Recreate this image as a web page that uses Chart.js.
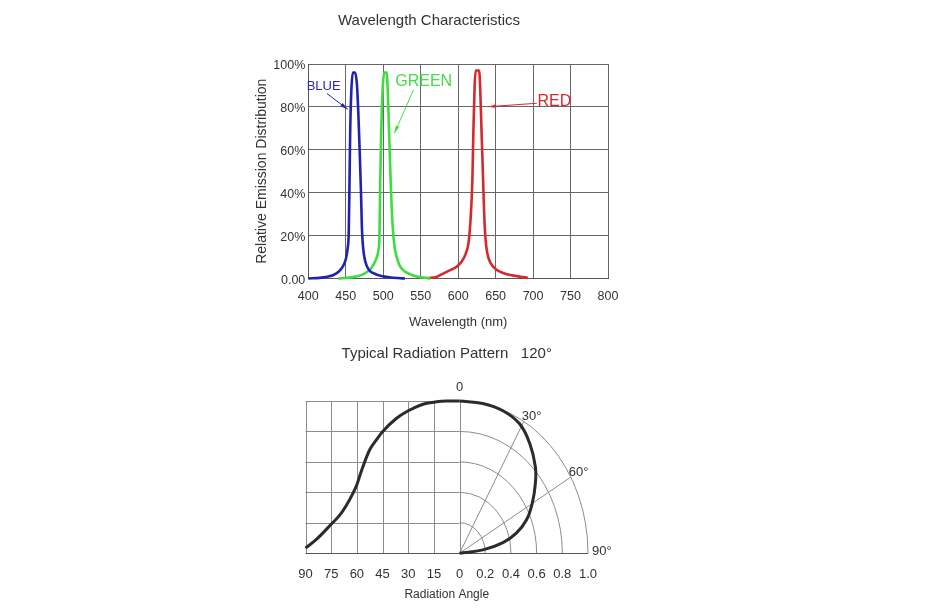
<!DOCTYPE html>
<html>
<head>
<meta charset="utf-8">
<script src="https://cdn.jsdelivr.net/npm/chart.js@4.4.1/dist/chart.umd.min.js"></script>
<style>
  html, body { margin: 0; padding: 0; background: #fff; }
  body { width: 929px; height: 609px; position: relative; overflow: hidden; }
  #specBox { position: absolute; left: 250px; top: 0; width: 400px; height: 340px; }
  #radBox { position: absolute; left: 286px; top: 330px; width: 360px; height: 279px; }
</style>
</head>
<body>
<div id="specBox"><canvas id="specChart"></canvas></div>
<div id="radBox"><canvas id="radChart"></canvas></div>
<script>
// ==== Données : spectre (nm, % relatif)
const emissionTicks = ["0.00", "20%", "40%", "60%", "80%", "100%"];

const blueNm  = [400, 415, 425, 433, 440, 446, 450, 452.5, 454, 455, 456, 457.5, 459.5, 462.5, 465, 467, 469, 470.5, 471.5, 473, 476, 481, 490, 500, 510, 520, 529];
const blueVal = [0, 0.3, 0.8, 1.5, 3, 5.5, 9, 14, 22, 45, 70, 88, 96, 96, 90, 75, 55, 38, 24, 15, 8, 4, 2, 1, 0.5, 0.2, 0];

const greenNm  = [440, 455, 465, 475, 482, 487, 490.5, 493.5, 495, 496, 497.5, 499.5, 501.5, 504.5, 506, 507.5, 509, 510.5, 512.5, 515, 518, 522, 528, 536, 546, 558, 563];
const greenVal = [0, 0.4, 1, 2.3, 4, 6.5, 9, 13, 20, 46, 71, 90, 96, 96, 88, 72, 55, 40, 25, 15, 10, 6, 3.5, 2, 0.8, 0.3, 0];

const redNm  = [561, 570, 580, 590, 598, 605, 610, 614, 617, 619, 620.5, 622, 623.5, 628, 629.5, 631, 632.5, 634, 635.5, 637.5, 641, 647, 655, 665, 680, 693];
const redVal = [0.3, 0.6, 2.3, 4, 5.5, 8, 11.5, 17, 30, 46, 71, 90, 97, 97, 88, 71, 55, 38, 24, 15, 9, 5.4, 3.3, 2, 1, 0.3];

// ==== Données : diagramme de rayonnement
const angleTicks = ["90", "75", "60", "45", "30", "15", "0"];
const intensityTicks = ["0.2", "0.4", "0.6", "0.8", "1.0"];

// moitié gauche : angle (°) / intensité relative
const flatAngle = [90, 84, 75, 70, 66, 62.3, 60, 57.5, 52.6, 48.7, 45, 37, 30, 21.4, 15, 7.8, 0];
const flatLevel = [0.033, 0.087, 0.19, 0.25, 0.317, 0.393, 0.45, 0.535, 0.678, 0.743, 0.798, 0.885, 0.936, 0.979, 0.992, 1.0, 1.0];

// moitié droite : tracé polaire (angle °, rayon)
const polarAngle  = [0, 10.4, 19.8, 28.8, 37.1, 46.1, 52.1, 59.9, 67.3, 73.4, 78.3, 83.1, 90];
const polarRadius = [1.0, 1.0, 0.995, 0.97, 0.905, 0.819, 0.748, 0.654, 0.564, 0.461, 0.345, 0.183, 0];

// ==== Helpers
const FONT = "'Liberation Sans', Arial, sans-serif";
const TXT = "#333";
Chart.defaults.font.family = FONT;
Chart.defaults.color = TXT;

function pts(xs, ys) {
  return xs.map((x, i) => ({ x: x, y: ys[i] }));
}

function arrow(ctx, x1, y1, x2, y2, color) {
  const a = Math.atan2(y2 - y1, x2 - x1);
  ctx.strokeStyle = color;
  ctx.fillStyle = color;
  ctx.lineWidth = 1;
  ctx.beginPath();
  ctx.moveTo(x1, y1);
  ctx.lineTo(x2, y2);
  ctx.stroke();
  ctx.beginPath();
  ctx.moveTo(x2, y2);
  ctx.lineTo(x2 - 8 * Math.cos(a - 0.25), y2 - 8 * Math.sin(a - 0.25));
  ctx.lineTo(x2 - 8 * Math.cos(a + 0.25), y2 - 8 * Math.sin(a + 0.25));
  ctx.closePath();
  ctx.fill();
}

// ==== Étiquettes BLUE / GREEN / RED (coordonnées nm / %)
const callouts = [
  { text: "BLUE",  color: "#2529b0", size: 13, at: [420.5, 89.5], from: [424.6, 86.3], to: [452.6, 78.9] },
  { text: "GREEN", color: "#45dc45", size: 16, at: [554, 92],     from: [540.3, 87.9], to: [514.9, 67.7] },
  { text: "RED",   color: "#d8282d", size: 16, at: [728.5, 82.5], from: [705, 81.7],   to: [640.4, 80.1] },
];

const calloutPlugin = {
  id: "callouts",
  afterDatasetsDraw(chart) {
    const { ctx, scales: { x, y } } = chart;
    ctx.save();
    callouts.forEach(c => {
      ctx.font = c.size + "px " + FONT;
      ctx.fillStyle = c.color;
      ctx.textAlign = "center";
      ctx.textBaseline = "middle";
      ctx.fillText(c.text, x.getPixelForValue(c.at[0]), y.getPixelForValue(c.at[1]));
      arrow(ctx,
        x.getPixelForValue(c.from[0]), y.getPixelForValue(c.from[1]),
        x.getPixelForValue(c.to[0]), y.getPixelForValue(c.to[1]), c.color);
    });
    ctx.restore();
  },
};

// ==== Graphique 1 : Wavelength Characteristics
function lineSet(data, color) {
  return {
    data: data,
    borderColor: color,
    borderWidth: 2.6,
    pointRadius: 0,
    showLine: true,
    cubicInterpolationMode: "monotone",
    clip: false,
  };
}

new Chart(document.getElementById("specChart"), {
  type: "scatter",
  data: {
    datasets: [
      lineSet(pts(blueNm, blueVal), "#1f24b0"),
      lineSet(pts(greenNm, greenVal), "#3edc3e"),
      lineSet(pts(redNm, redVal), "#d42a2c"),
    ],
  },
  options: {
    animation: false,
    maintainAspectRatio: false,
    layout: { padding: { left: 0, right: 42, top: 0, bottom: 6 } },
    plugins: {
      legend: { display: false },
      tooltip: { enabled: false },
      title: {
        display: true,
        text: "Wavelength Characteristics",
        color: TXT,
        font: { size: 15, weight: "normal" },
        padding: { top: 12, bottom: 34 },
      },
    },
    scales: {
      x: {
        type: "linear",
        min: 400,
        max: 800,
        ticks: { stepSize: 50, color: TXT, font: { size: 12.5 }, padding: 11, maxRotation: 0, autoSkip: false },
        grid: { color: "#666", drawTicks: false },
        border: { color: "#555" },
        title: { display: true, text: "Wavelength (nm)", color: TXT, font: { size: 13 } },
        afterFit: s => { s.height = 55.5; },
      },
      y: {
        min: 0,
        max: 100,
        ticks: { stepSize: 20, color: TXT, font: { size: 12.5 }, padding: 3, labelOffset: 2,
                 callback: (v, i) => emissionTicks[i] },
        grid: { color: "#666", drawTicks: false },
        border: { color: "#555" },
        title: { display: true, text: "Relative Emission Distribution", color: TXT, font: { size: 14 } },
        afterFit: s => { s.width = 58.3; },
      },
    },
  },
  plugins: [calloutPlugin],
});

// ==== Graphique 2 : Typical Radiation Pattern
// unités : 1 colonne = 15° à gauche, 0.2 à droite ; 1 ligne = 0.2
const radTickLabels = angleTicks.concat(intensityTicks);
const flatPts = pts(flatAngle.map(a => -a / 15), flatLevel.map(v => v * 5));
const polarPts = polarAngle.map((a, i) => {
  const t = a * Math.PI / 180;
  return { x: polarRadius[i] * Math.sin(t) * 5, y: polarRadius[i] * Math.cos(t) * 5 };
});

const polarGrid = {
  id: "polarGrid",
  beforeDatasetsDraw(chart) {
    const { ctx, scales: { x, y } } = chart;
    const cx = x.getPixelForValue(0), cy = y.getPixelForValue(0);
    const ux = x.getPixelForValue(1) - cx, uy = cy - y.getPixelForValue(1);
    ctx.save();
    ctx.strokeStyle = "#8c8c8c";
    ctx.lineWidth = 1;
    ctx.beginPath();
    for (let r = 1; r <= 5; r++) {                 // lignes horizontales (gauche)
      const py = Math.round(y.getPixelForValue(r)) + 0.5;
      ctx.moveTo(x.getPixelForValue(-6), py);
      ctx.lineTo(cx, py);
    }
    for (let c = -6; c <= 0; c++) {                // lignes verticales (gauche)
      const px = Math.round(x.getPixelForValue(c)) + 0.5;
      ctx.moveTo(px, y.getPixelForValue(0));
      ctx.lineTo(px, y.getPixelForValue(5));
    }
    ctx.stroke();
    for (let r = 1; r <= 5; r++) {                 // arcs
      ctx.beginPath();
      ctx.ellipse(cx, cy, ux * r, uy * r, 0, -Math.PI / 2, 0);
      ctx.stroke();
    }
    [30, 60].forEach(a => {                        // rayons
      const t = a * Math.PI / 180;
      ctx.beginPath();
      ctx.moveTo(cx, cy);
      ctx.lineTo(cx + ux * 5 * Math.sin(t), cy - uy * 5 * Math.cos(t));
      ctx.stroke();
    });
    ctx.strokeStyle = "#555";                      // axe bas
    ctx.beginPath();
    ctx.moveTo(x.getPixelForValue(-6), Math.round(cy) + 0.5);
    ctx.lineTo(cx + ux * 5, Math.round(cy) + 0.5);
    ctx.stroke();

    ctx.fillStyle = TXT;
    ctx.font = "13px " + FONT;
    ctx.textBaseline = "middle";
    ctx.textAlign = "center";
    ctx.fillText("0", cx, y.getPixelForValue(5) - 14);
    ctx.textAlign = "left";
    [["30°", 30], ["60°", 60], ["90°", 90]].forEach(([txt, a]) => {
      const t = a * Math.PI / 180;
      const px = cx + ux * 5 * Math.sin(t), py = cy - uy * 5 * Math.cos(t);
      if (a === 90) ctx.fillText(txt, px + 4, py - 2);
      else ctx.fillText(txt, px - 2, py - 5);
    });
    ctx.restore();
  },
};

function curveSet(data, mono) {
  return {
    data: data,
    borderColor: "#2b2b2b",
    borderWidth: 3,
    pointRadius: 0,
    showLine: true,
    tension: 0.4,
    cubicInterpolationMode: mono ? "monotone" : "default",
    clip: false,
  };
}

new Chart(document.getElementById("radChart"), {
  type: "scatter",
  data: { datasets: [curveSet(flatPts, true), curveSet(polarPts, false)] },
  options: {
    animation: false,
    maintainAspectRatio: false,
    layout: { padding: { left: 19.5, right: 58, top: 0, bottom: 2.8 } },
    plugins: {
      legend: { display: false },
      tooltip: { enabled: false },
      title: {
        display: true,
        text: "Typical Radiation Pattern   120°",
        color: TXT,
        font: { size: 15, weight: "normal" },
        padding: { top: 15, bottom: 38 },
      },
    },
    scales: {
      x: {
        type: "linear",
        min: -6,
        max: 5,
        ticks: { stepSize: 1, color: TXT, font: { size: 13 }, padding: 5, maxRotation: 0, autoSkip: false,
                 callback: (v, i) => radTickLabels[i] },
        grid: { display: false },
        border: { display: false },
        title: { display: true, text: "Radiation Angle", color: TXT, font: { size: 12 } },
        afterFit: s => { s.height = 53; },
      },
      y: { display: false, min: 0, max: 5 },
    },
  },
  plugins: [polarGrid],
});
</script>
</body>
</html>
